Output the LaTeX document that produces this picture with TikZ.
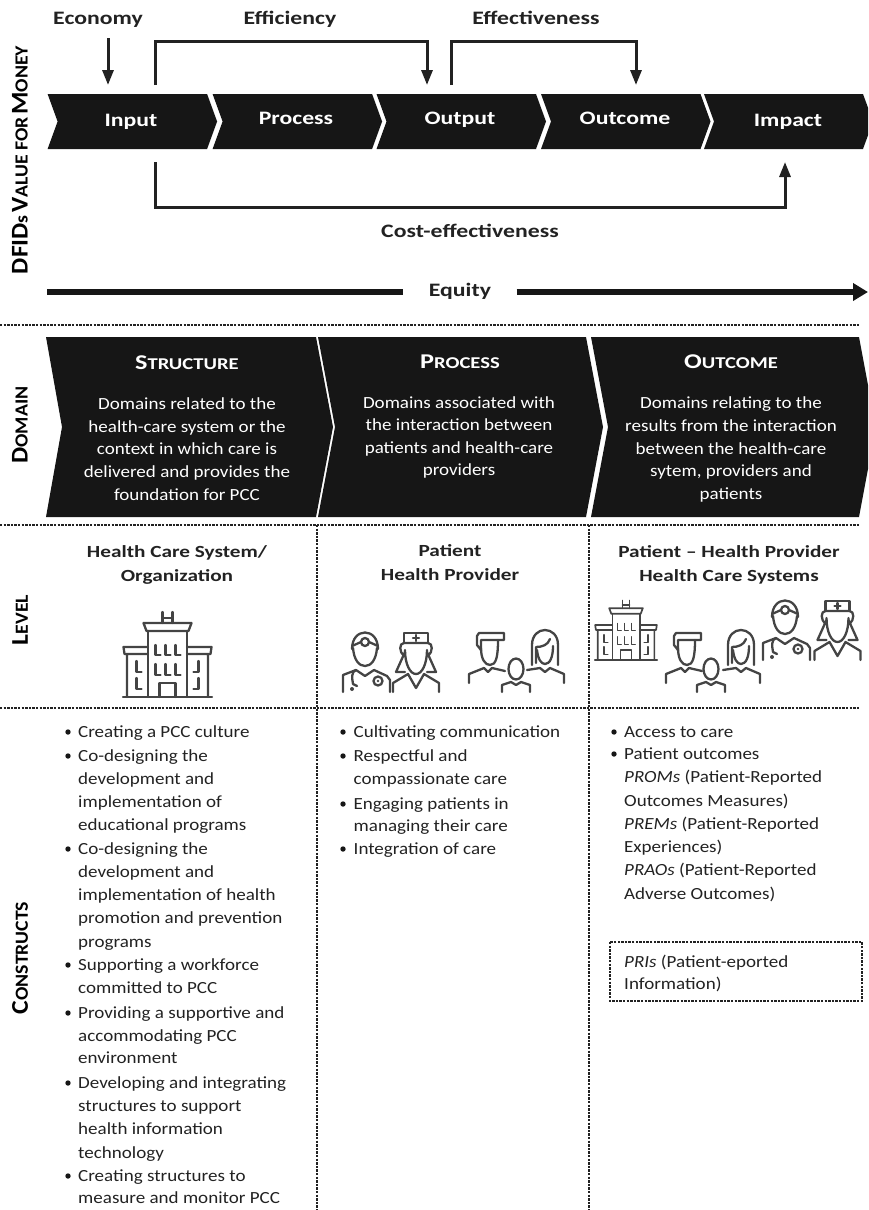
\documentclass[tikz,border=0pt]{standalone}
\usepackage{fontspec}
\setmainfont[FakeStretch=1.12]{Carlito}
\newfontfamily\sidefont[FakeStretch=1.07]{Carlito}
\newfontfamily\labelfont[FakeStretch=1.25]{Carlito}
\usepackage{xcolor}
\usetikzlibrary{arrows.meta}

\definecolor{barblack}{HTML}{161616}
\definecolor{inkgrey}{HTML}{222222}
\definecolor{icongrey}{HTML}{444444}

\newcommand{\headcap}[2]{{\fontsize{21}{21}\selectfont #1}{\fontsize{16.5}{16.5}\selectfont #2}}
\newcommand{\sidecap}[2]{{\fontsize{24}{24}\selectfont #1}{\fontsize{18.5}{18.5}\selectfont #2}}

\tikzset{
  sidelabel/.style={rotate=90,font=\sidefont\bfseries,text=black,inner sep=0pt},
  toplabel/.style={font=\labelfont\fontsize{19}{20}\selectfont\bfseries,text=inkgrey,inner sep=0pt,text height=13pt,text depth=4pt},
  barlabel/.style={font=\labelfont\fontsize{19}{20}\selectfont\bfseries,text=white,inner sep=0pt,text height=13pt,text depth=4pt},
  domainhead/.style={font=\labelfont\bfseries,text=white,inner sep=0pt},
  domainbody/.style={font=\fontsize{17}{22.6}\selectfont,text=white,align=center,inner sep=0pt},
  levellabel/.style={font=\labelfont\fontsize{17}{24}\selectfont\bfseries,text=inkgrey,align=center,inner sep=0pt},
  listline/.style={font=\fontsize{17}{20}\selectfont,text=inkgrey,anchor=base west,inner sep=0pt,yshift=-5.5pt},
  linkline/.style={draw=inkgrey,line width=3pt},
  linkarrow/.style={linkline,-{Triangle[width=11pt,length=15pt]}},
  equityline/.style={draw=barblack,line width=5.5pt},
  dashrule/.style={draw=inkgrey,line width=1.5pt,dash pattern=on 2.4pt off 1.2pt},
  iconline/.style={draw=icongrey,line width=2.3pt,line cap=round,line join=round},
  hospital/.pic={
    \draw[iconline] (-44.5,0) -- (44.5,0);
    \draw[iconline] (-19.5,0) -- (-19.5,-66) (19.5,0) -- (19.5,-66);
    \draw[iconline] (-24,-74) -- (24,-74) -- (21,-66) -- (-21,-66) -- cycle;
    \draw[iconline] (-5,-74) -- (-5,-85) (5,-74) -- (5,-85) (-5,-79) -- (5,-79);
    \draw[iconline] (-19.5,-50) -- (-44,-50) -- (-43,-43) -- (-19.5,-43) (-40.5,-43) -- (-40.5,0);
    \draw[iconline] (19.5,-50) -- (44,-50) -- (43,-43) -- (19.5,-43) (40.5,-43) -- (40.5,0);
    \foreach \wx in {-12,-2,8} {
      \draw[iconline] (\wx,-52) -- (\wx,-42) -- ++(5,0);
      \draw[iconline] (\wx,-33) -- (\wx,-22) -- ++(5,0);
    }
    \foreach \wy in {-36,-19} {
      \draw[iconline] (-31,\wy) -- ++(0,11) -- ++(5,0);
      \draw[iconline] (31,\wy) -- ++(0,11) -- ++(-5,0);
    }
    \draw[iconline] (-8,0) -- (-8,-14) -- (8,-14) -- (8,0);
  },
  doctor/.pic={
    \draw[iconline] (-13,-43) .. controls (-13,-65) and (13,-65) .. (13,-43);
    \draw[iconline] (-13,-46) -- (-4,-50) (4,-50) -- (13,-46);
    \draw[iconline] (0,-50) circle (4);
    \draw[iconline] (-12,-44) .. controls (-11,-32) and (-6,-26) .. (0,-26) .. controls (6,-26) and (11,-32) .. (12,-44);
    \draw[iconline] (-22,0) -- (-22,-17) -- (-9,-22) -- (0,-16) -- (9,-22) -- (22,-16) -- (25,-12) -- (25,0);
    \draw[iconline] (-9,-22) .. controls (-14,-20) and (-13,-14) .. (-12,-8) -- (-8,-6);
    \draw[iconline] (13,-11) circle (4.5);
    \fill[icongrey] (13,-11) circle (1.3) (-13,-3) circle (2);
  },
  nurse/.pic={
    \draw[iconline] (-12,-49) -- (-12,-59) -- (12,-59) -- (12,-49);
    \draw[iconline] (-3,-54) -- (3,-54) (0,-57) -- (0,-51);
    \draw[iconline] (-12,-36) .. controls (-17,-40) and (-17,-49) .. (-12,-49) -- (12,-49) .. controls (17,-49) and (17,-40) .. (12,-36);
    \draw[iconline] (-11,-40) -- (-20,-20) -- (-11,-20) (11,-40) -- (20,-20) -- (11,-20);
    \draw[iconline] (-11,-42) .. controls (-11,-28) and (-6,-18) .. (0,-18) .. controls (6,-18) and (11,-28) .. (11,-42);
    \draw[iconline] (-23,0) -- (-23,-9) -- (-8,-18) -- (0,-4) -- (8,-18) -- (23,-9) -- (23,0);
  },
  manfig/.pic={
    \draw[iconline] (-6,-33) -- (-10,-38) -- (-10,-47) -- (-8,-50) -- (17,-50) -- (17,-43) -- (-6,-43) -- (-6,-33);
    \draw[iconline] (-6,-35) .. controls (-6,-24) and (-2,-18) .. (3,-18) .. controls (9,-18) and (11,-26) .. (11,-43);
    \draw[iconline] (-18,0) -- (-18,-9) -- (-3,-15) -- (1,-11) -- (5,-15) -- (18,-12);
  },
  childfig/.pic={
    \draw[iconline] (0,-23) ellipse (7.5 and 10.5);
    \draw[iconline] (-14,0) -- (-14,-7) -- (-5,-10) -- (0,-7) -- (5,-10) -- (14,-7) -- (14,0);
  },
  womanfig/.pic={
    \draw[iconline] (-13,-18) -- (-13,-38) .. controls (-13,-58) and (13,-58) .. (13,-38) -- (13,-18);
    \draw[iconline] (-9,-20) -- (-9,-36) .. controls (-3,-36) and (3,-38) .. (5,-44);
    \draw[iconline] (-8,-33) .. controls (-7,-24) and (-4,-19) .. (0,-19) .. controls (5,-19) and (8,-26) .. (8,-37);
    \draw[iconline] (-18,-13) -- (-5,-15) -- (0,-11) -- (5,-15) -- (19,-9) -- (19,0);
  }
}

\begin{document}
\begin{tikzpicture}[x=1pt,y=-1pt]
   \useasboundingbox (0,0) rectangle (868,1210);

   % value for money band
   \foreach \xpos in {47.6,212.6,376.5,541}
     \fill[barblack,shift={(\xpos,0)}] (0,94) -- (159.5,94) -- (169.5,121.5) -- (159.5,149) -- (0,149) -- (10,121.5) -- cycle;
   \fill[barblack] (704,94) -- (863,94) -- (868,107.7) -- (868,135.3) -- (863,149) -- (704,149) -- (714,121.5) -- cycle;

   \draw (131,121.5) node[barlabel] (input) {Input};
   \draw (296,119.5) node[barlabel] (process) {Process};
   \draw (460,119.5) node[barlabel] (output) {Output};
   \draw (625,119.5) node[barlabel] (outcome) {Outcome};
   \draw (788,121.5) node[barlabel] (impact) {Impact};

   \draw (98,19.5) node[toplabel] (economy) {Economy};
   \draw (290,19.5) node[toplabel] (efficiency) {Efficiency};
   \draw (536,19.5) node[toplabel] (effectiveness) {Effectiveness};
   \draw (470,233) node[toplabel] (costeff) {Cost-effectiveness};
   \draw (460,291.5) node[toplabel,minimum width=113pt] (equity) {Equity};

   \coordinate (economytop) at (108,38);
   \coordinate (economyend) at (108,85);
   \coordinate (effstart) at (155.5,85);
   \coordinate (effend) at (427,85);
   \coordinate (effbar) at (427,41);
   \coordinate (tivestart) at (451,85);
   \coordinate (tiveend) at (636,85);
   \coordinate (tivebar) at (636,41);
   \coordinate (coststart) at (155.5,162);
   \coordinate (costend) at (785,162);
   \coordinate (costbar) at (785,207);
   \coordinate (equitystart) at (47,292);
   \coordinate (equityend) at (868,292);

   \draw[linkarrow] (economytop) -- (economyend);
   \draw[linkarrow] (effstart) |- (effbar) -- (effend);
   \draw[linkarrow] (tivestart) |- (tivebar) -- (tiveend);
   \draw[linkarrow] (coststart) |- (costbar) -- (costend);
   \draw[equityline] (equitystart) -- (equity.west |- equitystart);
   \draw[equityline,-{Triangle[width=17pt,length=15pt]}] (equity.east |- equityend) -- (equityend);

   % rules
   \draw[dashrule] (0,325) -- (860,325);
   \draw[dashrule] (0,525) -- (860,525);
   \draw[dashrule] (0,708) -- (860,708);
   \draw[dashrule] (317,525) -- (317,1210);
   \draw[dashrule] (589,525) -- (589,1210);

   % side labels
   \draw (20,160) node[sidelabel] (vfmlabel) {\sidecap{DFID}{s} \sidecap{V}{ALUE FOR} \sidecap{M}{ONEY}};
   \draw (20,425) node[sidelabel] (domainlabel) {\sidecap{D}{OMAIN}};
   \draw (20,620) node[sidelabel] (levellabel) {\sidecap{L}{EVEL}};
   \draw (20,958) node[sidelabel] (constructlabel) {\sidecap{C}{ONSTRUCTS}};

   % domain band
   \fill[barblack] (46,337) -- (316,337) -- (333,427) -- (316,517) -- (46,517) -- (62,427) -- cycle;
   \fill[barblack] (318,337) -- (586,337) -- (603,427) -- (586,517) -- (318,517) -- (335,427) -- cycle;
   \fill[barblack] (591,337) -- (859,337) -- (868,385) -- (868,469) -- (859,517) -- (591,517) -- (608,427) -- cycle;

   \draw (187,363) node[domainhead] (structure) {\headcap{S}{TRUCTURE}};
   \draw (460,362) node[domainhead] (processhead) {\headcap{P}{ROCESS}};
   \draw (731,362) node[domainhead] (outcomehead) {\headcap{O}{UTCOME}};

   \draw (187,449) node[domainbody] (structuretext) {Domains related to the\\health-care system or the\\context in which care is\\delivered and provides the\\foundation for PCC};
   \draw (459,437.5) node[domainbody] (processtext) {Domains associated with\\the interaction between\\patients and health-care\\providers};
   \draw (731,449.5) node[domainbody] (outcometext) {Domains relating to the\\results from the interaction\\between the health-care\\sytem, providers and\\patients};

   % level row
   \draw (177,565) node[levellabel] (levelone) {Health Care System/\\Organization};
   \draw (450,563) node[levellabel] (leveltwo) {Patient\\Health Provider};
   \draw (729,565) node[levellabel] (levelthree) {Patient – Health Provider\\Health Care Systems};

   \pic (hospitalone) at (167.5,697) {hospital};
   \pic (doctorone) at (365,692) {doctor};
   \pic (nurseone) at (416,692) {nurse};
   \pic (manone) at (487,683) {manfig};
   \pic (childone) at (516,692) {childfig};
   \pic (womanone) at (545,683) {womanfig};

   \pic[scale=.7,iconline/.append style={line width=1.7pt}] (hospitaltwo) at (626,660) {hospital};
   \pic (mantwo) at (684,683) {manfig};
   \pic (childtwo) at (711,692) {childfig};
   \pic (womantwo) at (741,683) {womanfig};
   \pic (doctortwo) at (785,660) {doctor};
   \pic (nursetwo) at (837.5,660) {nurse};

   % constructs
   \foreach \ypos in {732,756,849,965,1013,1083,1176}
     \fill[barblack] (68,\ypos) circle (2.7);
   \foreach \ypos in {732,756,804,849}
     \fill[barblack] (343,\ypos) circle (2.7);
   \foreach \ypos in {732,754}
     \fill[barblack] (614,\ypos) circle (2.7);

   \foreach \ypos/\linetext [count=\i] in {732/{Creating a PCC culture},756/{Co-designing the},779/{development and},802/{implementation of},825/{educational programs},849/{Co-designing the},872/{development and},895/{implementation of health},918/{promotion and prevention},942/{programs},965/{Supporting a workforce},988/{committed to PCC},1013/{Providing a supportive and},1036/{accommodating PCC},1058/{environment},1083/{Developing and integrating},1106/{structures to support},1129/{health information},1153/{technology},1176/{Creating structures to},1198/{measure and monitor PCC}}
     \draw (78,\ypos) node[listline] (structline\i) {\linetext};

   \foreach \ypos/\linetext [count=\i] in {732/{Cultivating communication},756/{Respectful and},779/{compassionate care},804/{Engaging patients in},826/{managing their care},849/{Integration of care}}
     \draw (353.5,\ypos) node[listline] (processline\i) {\linetext};

   \foreach \ypos/\linetext [count=\i] in {732/{Access to care},754/{Patient outcomes},777/{\textit{PROMs} (Patient-Reported},801/{Outcomes Measures)},824/{\textit{PREMs} (Patient-Reported},847/{Experiences)},870/{\textit{PRAOs} (Patient-Reported},894/{Adverse Outcomes)},962/{\textit{PRIs} (Patient-eported},984/{Information)}}
     \draw (624,\ypos) node[listline] (outcomeline\i) {\linetext};

   \coordinate (prinw) at (610,942);
   \coordinate (prise) at (862,1001);
   \draw[dashrule] (prinw) rectangle (prise);

\end{tikzpicture}
\end{document}
